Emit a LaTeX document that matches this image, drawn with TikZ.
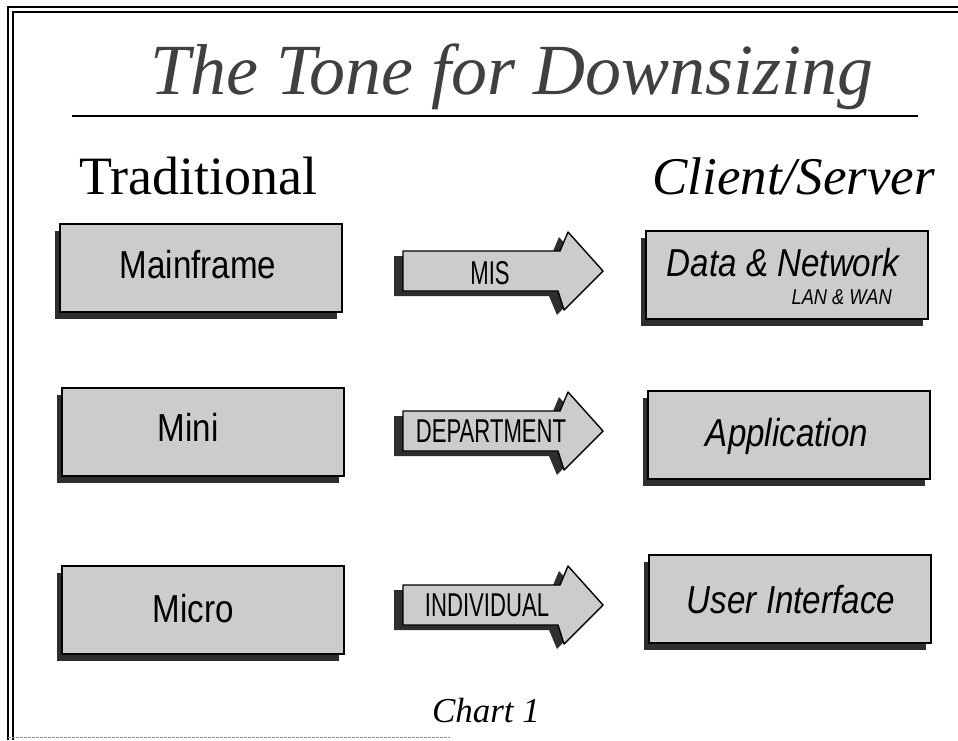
\documentclass[tikz,border=0pt]{standalone}
\usepackage{fontspec}
\setmainfont{Liberation Serif}
\newfontfamily\labelfont[FakeStretch=0.85]{Liberation Sans}
\newfontfamily\tagfont[FakeStretch=0.67]{Liberation Sans}
\usetikzlibrary{shadows}

\definecolor{panelgray}{gray}{0.80}
\definecolor{shadowgray}{gray}{0.18}

\tikzset{
  panel/.style={draw=black, line width=1.6pt, fill=panelgray,
    minimum width=282pt, minimum height=88pt, inner sep=0pt,
    drop shadow={shadow xshift=-5pt, shadow yshift=-7pt, fill=shadowgray, opacity=1}},
  boxtext/.style={anchor=base, inner sep=0pt, font=\labelfont\fontsize{39}{44}\selectfont},
  boxtextit/.style={boxtext, font=\labelfont\itshape\fontsize{39}{44}\selectfont},
  arrowtext/.style={anchor=base, inner sep=0pt, font=\tagfont\fontsize{33}{36}\selectfont},
  heading/.style={anchor=base, inner sep=0pt, font=\fontsize{54}{60}\selectfont},
  fatarrow/.pic={
    % dark copy offset left and down gives the raised look
    \fill[shadowgray] (-9,-15) -- (148,-15) -- (156,-34) -- (191,5) -- (154,44) -- (146,25) -- (-9,25) -- cycle;
    \filldraw[fill=panelgray, draw=black, line width=1.4pt, line join=round]
      (0,-20) -- (157,-20) -- (165,-39) -- (200,0) -- (161,39) -- (155,20) -- (0,20) -- cycle;
  }
}

\begin{document}
\begin{tikzpicture}[x=1pt, y=-1pt]
  \useasboundingbox (0,0) rectangle (958,740);

  % page frame: double rule on top and left, faint rule at the bottom
  \draw[line width=1.1pt] (958,7) -- (8,7) -- (8,740);
  \draw[line width=1.1pt] (958,12) -- (13,12) -- (13,740);
  \draw[black!45, line width=0.8pt, dash pattern=on 3pt off 1pt] (8,737) -- (450,737);

  % title and rule
  \node[anchor=base, inner sep=0pt, text=black!75, font=\itshape\fontsize{72}{80}\selectfont] (title) at (512,94) {The Tone for Downsizing};
  \coordinate (ruleL) at (72,116);
  \coordinate (ruleR) at (918,116);
  \draw[line width=2pt] (ruleL) -- (ruleR);

  % column headings
  \node[heading, anchor=base west] (trad) at (79,194) {Traditional};
  \node[heading, anchor=base east, font=\itshape\fontsize{53}{60}\selectfont] (cs) at (935,194) {Client/Server};

  % left column
  \node[panel] (mainframe) at (201,268) {};
  \node[boxtext] (mainframeT) at (198,278) {Mainframe};
  \node[panel] (mini) at (203,432) {};
  \node[boxtext] (miniT) at (188,441) {Mini};
  \node[panel] (micro) at (203,610) {};
  \node[boxtext] (microT) at (193,622) {Micro};

  % right column
  \node[panel] (data) at (787,275) {};
  \node[boxtextit] (dataT) at (783,276) {Data \& Network};
  \node[anchor=base east, inner sep=0pt, font=\labelfont\itshape\fontsize{21.5}{24}\selectfont] (lanT) at (892,304) {LAN \& WAN};
  \node[panel] (app) at (789,435) {};
  \node[boxtextit] (appT) at (787,446) {Application};
  \node[panel] (ui) at (790,599) {};
  \node[boxtextit] (uiT) at (791,613) {User Interface};

  % transition arrows
  \pic (mis) at (403,271) {fatarrow};
  \node[arrowtext] (misT) at (490,284) {MIS};
  \pic (dept) at (403,431) {fatarrow};
  \node[arrowtext] (deptT) at (491,442) {DEPARTMENT};
  \pic (indiv) at (403,605) {fatarrow};
  \node[arrowtext] (indivT) at (487,616) {INDIVIDUAL};

  % caption
  \node[anchor=base, inner sep=0pt, font=\itshape\fontsize{35}{40}\selectfont] (caption) at (486,722) {Chart 1};
\end{tikzpicture}
\end{document}
